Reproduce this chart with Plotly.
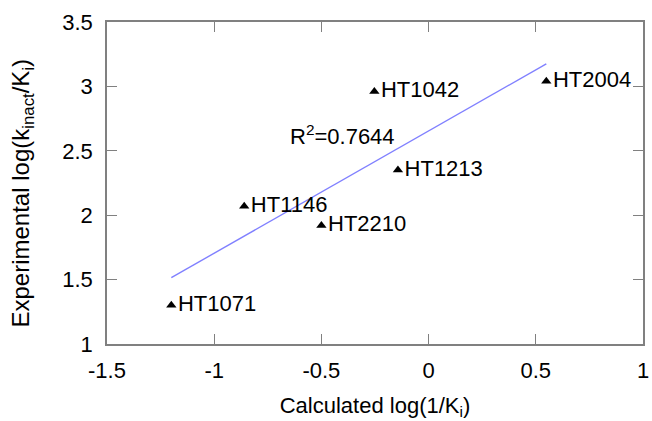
import numpy as np
import plotly.graph_objects as go

# Compounds: calculated log(1/Ki) vs experimental log(kinact/Ki)
compounds = ["HT1071", "HT1146", "HT2210", "HT1042", "HT1213", "HT2004"]
calc_log = [-1.20, -0.86, -0.50, -0.253, -0.143, 0.549]
exp_log = [1.30, 2.07, 1.92, 2.96, 2.35, 3.04]
r2_text = "R<sup>2</sup>=0.7644"

# Least-squares fit line across the data range
slope, intercept = np.polyfit(calc_log, exp_log, 1)
fit_x = [min(calc_log), max(calc_log)]
fit_y = [slope * v + intercept for v in fit_x]

FONT = "Liberation Sans, Arial, sans-serif"
AXIS_GRAY = "#808080"
FS = 22

fig = go.Figure()
fig.add_trace(go.Scatter(
    x=fit_x, y=fit_y, mode="lines",
    line=dict(color="#8080ff", width=1.4),
    hoverinfo="skip", showlegend=False,
))
fig.add_trace(go.Scatter(
    x=calc_log, y=exp_log, mode="markers+text",
    marker=dict(symbol="triangle-up", size=9, color="black"),
    text=compounds, textposition="middle right",
    textfont=dict(family=FONT, size=FS, color="black"),
    showlegend=False,
))

fig.add_annotation(
    x=-0.40, y=2.623, text=r2_text, showarrow=False,
    font=dict(family=FONT, size=FS, color="black"),
)

# Vertical axis title placed as a rotated annotation
fig.add_annotation(
    xref="paper", yref="paper", x=-0.157, y=0.47,
    xanchor="center", yanchor="middle", textangle=-90,
    text="Experimental log(k<sub>inact</sub>/K<sub>i</sub>)", showarrow=False,
    font=dict(family=FONT, size=24, color="black"),
)

axis_common = dict(
    showline=True, linecolor=AXIS_GRAY, linewidth=1.5,
    mirror="ticks", ticks="inside", ticklen=10, tickcolor=AXIS_GRAY,
    tickwidth=1, showgrid=False, zeroline=False, automargin=False,
    tickfont=dict(family=FONT, size=FS, color="black"),
)

fig.update_layout(
    width=652, height=421,
    margin=dict(l=107, r=9, t=22, b=77),
    paper_bgcolor="white", plot_bgcolor="white",
    xaxis=dict(
        range=[-1.5, 1], tickvals=[-1.5, -1, -0.5, 0, 0.5, 1],
        ticktext=["-1.5", "-1", "-0.5", "0", "0.5", "1"],
        ticklabelstandoff=6,
        title=dict(text="Calculated log(1/K<sub>i</sub>)",
                   font=dict(family=FONT, size=FS, color="black"), standoff=15),
        **axis_common,
    ),
    yaxis=dict(
        range=[1, 3.5], tickvals=[1, 1.5, 2, 2.5, 3, 3.5],
        ticktext=["1", "1.5", "2", "2.5", "3", "3.5"],
        ticklabelstandoff=8,
        **axis_common,
    ),
)

fig.write_html("out.html")
